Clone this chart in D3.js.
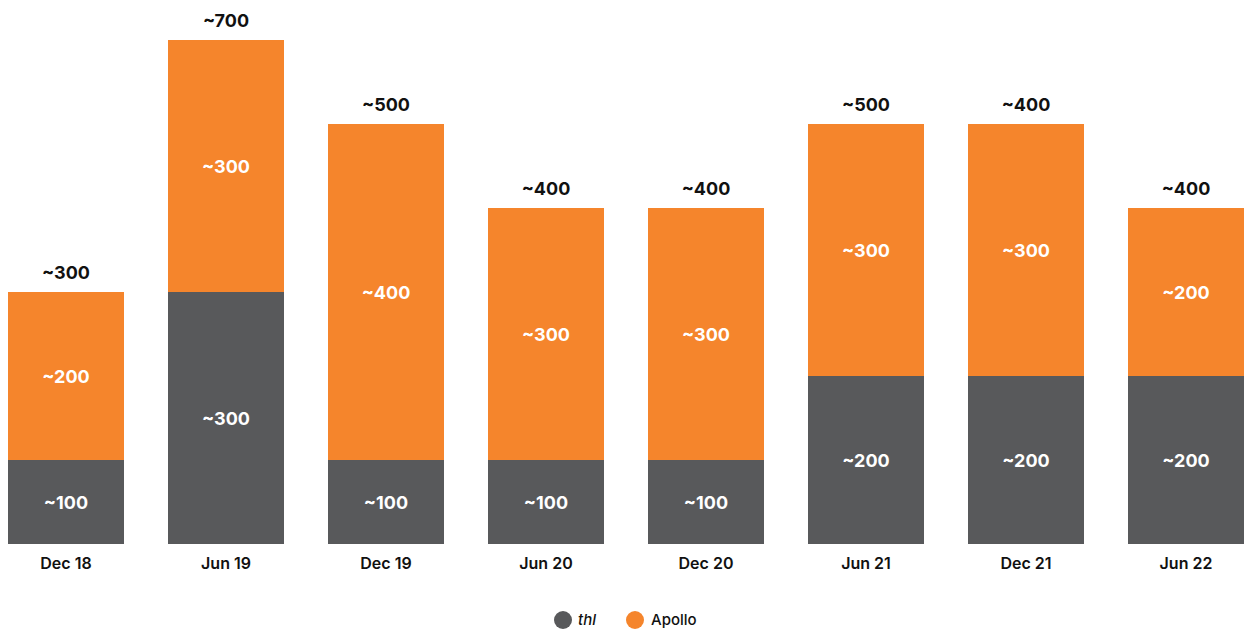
<!DOCTYPE html>
<html>
<head>
<meta charset="utf-8">
<script src="https://cdn.jsdelivr.net/npm/d3@7"></script>
<style>
  body { margin: 0; background: #fff; }
  svg text { font-family: Inter, "Open Sans", sans-serif; }
</style>
</head>
<body>
<div id="chart"></div>
<script>
const categories = ["Dec 18", "Jun 19", "Dec 19", "Jun 20", "Dec 20", "Jun 21", "Dec 21", "Jun 22"];
const thlValues = [100, 300, 100, 100, 100, 200, 200, 200];
const apolloValues = [200, 300, 400, 300, 300, 300, 300, 200];
const totalLabels = ["~300", "~700", "~500", "~400", "~400", "~500", "~400", "~400"];
const seriesNames = ["thl", "Apollo"];

const colors = { thl: "#58595b", Apollo: "#f5852c" };

const width = 1248;
const height = 632;

const svg = d3.select("#chart")
  .append("svg")
  .attr("width", width)
  .attr("height", height);

const x = d3.scaleBand()
  .domain(categories)
  .range([-14, 1266])
  .paddingInner(0.275)
  .paddingOuter(0.1375);

const y = d3.scaleLinear()
  .domain([0, 700])
  .range([544, 544 - 588]);

const rows = categories.map((c, i) => ({ cat: c, thl: thlValues[i], Apollo: apolloValues[i], total: totalLabels[i] }));
const stacked = d3.stack().keys(seriesNames)(rows);

// bars
const layers = svg.selectAll(".layer")
  .data(stacked)
  .enter()
  .append("g")
  .attr("class", "layer")
  .attr("fill", d => colors[d.key]);

layers.selectAll("rect")
  .data(d => d)
  .enter()
  .append("rect")
  .attr("x", d => x(d.data.cat))
  .attr("y", d => y(d[1]))
  .attr("width", x.bandwidth())
  .attr("height", d => y(d[0]) - y(d[1]));

// segment labels
layers.selectAll("text")
  .data(d => d)
  .enter()
  .append("text")
  .attr("x", d => x(d.data.cat) + x.bandwidth() / 2)
  .attr("y", d => (y(d[0]) + y(d[1])) / 2)
  .attr("text-anchor", "middle")
  .attr("dominant-baseline", "central")
  .attr("fill", "#fff")
  .attr("font-size", "18px")
  .attr("font-weight", 700)
  .text(d => "~" + (d[1] - d[0]));

// totals
svg.selectAll(".total")
  .data(rows)
  .enter()
  .append("text")
  .attr("class", "total")
  .attr("x", d => x(d.cat) + x.bandwidth() / 2)
  .attr("y", d => y(d.thl + d.Apollo) - 13)
  .attr("text-anchor", "middle")
  .attr("fill", "#111")
  .attr("font-size", "18px")
  .attr("font-weight", 700)
  .text(d => d.total);

// x axis labels
const xAxis = svg.append("g")
  .attr("transform", "translate(0,544)")
  .call(d3.axisBottom(x).tickSize(0).tickPadding(14));
xAxis.select(".domain").remove();
xAxis.selectAll("text")
  .attr("fill", "#111")
  .attr("font-size", "16px")
  .attr("font-weight", 600)
  .style("font-family", "Inter, sans-serif");

// legend
const legend = svg.append("g")
  .attr("transform", "translate(563, 620)");

const legendX = [0, 72];
seriesNames.forEach((key, i) => {
  const g = legend.append("g")
    .attr("transform", `translate(${legendX[i]}, 0)`);
  g.append("circle")
    .attr("r", 9)
    .attr("fill", colors[key]);
  g.append("text")
    .attr("x", key === "thl" ? 15 : 16)
    .attr("y", 5)
    .attr("font-size", "15px")
    .attr("font-weight", 500)
    .attr("font-style", key === "thl" ? "italic" : "normal")
    .attr("fill", "#111")
    .text(key);
});
</script>
</body>
</html>
